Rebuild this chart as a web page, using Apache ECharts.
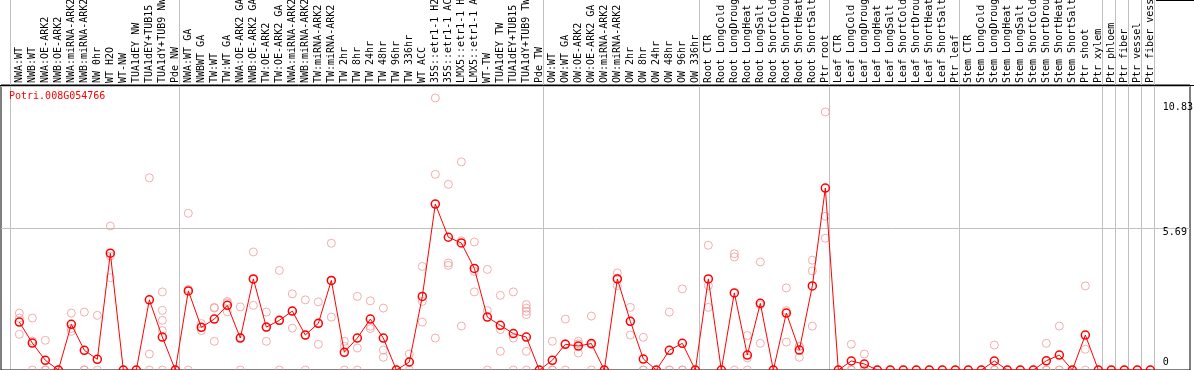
<!DOCTYPE html>
<html><head><meta charset="utf-8">
<script src="https://cdn.jsdelivr.net/npm/echarts@6/dist/echarts.min.js"></script>
<style>html,body{margin:0;padding:0;background:#fff}#c{width:1194px;height:370px}</style>
</head><body><div id="c"></div>
<script>
const chartTitle = 'Potri.008G054766';
const categories = [
  'NWA:WT','NWB:WT','NWA:OE-ARK2','NWB:OE-ARK2','NWA:miRNA-ARK2','NWB:miRNA-ARK2','NW 0hr','WT H2O','WT-NW','TUA1dEY NW','TUA1dEY+TUB15','TUA1dY+TUB9 NW','Pde NW',
  'NWA:WT GA','NWBWT GA','TW:WT','TW:WT GA','NWA:OE-ARK2 GA','NWB:OE-ARK2 GA','TW:OE-ARK2','TW:OE-ARK2 GA','NWA:miRNA-ARK2','NWB:miRNA-ARK2','TW:miRNA-ARK2','TW:miRNA-ARK2',
  'TW 2hr','TW 8hr','TW 24hr','TW 48hr','TW 96hr','TW 336hr','WT ACC','35S::etr1-1 H2O','35S::etr1-1 ACC','LMX5::etr1-1 H2O','LMX5::etr1-1 ACC','WT-TW','TUA1dEY TW','TUA1dEY+TUB15','TUA1dY+TUB9 TW','Pde TW',
  'OW:WT','OW:WT GA','OW:OE-ARK2','OW:OE-ARK2 GA','OW:miRNA-ARK2','OW:miRNA-ARK2','OW 2hr','OW 8hr','OW 24hr','OW 48hr','OW 96hr','OW 336hr',
  'Root CTR','Root LongCold','Root LongDrought','Root LongHeat','Root LongSalt','Root ShortCold','Root ShortDrought','Root ShortHeat','Root ShortSalt','Ptr root',
  'Leaf CTR','Leaf LongCold','Leaf LongDrought','Leaf LongHeat','Leaf LongSalt','Leaf ShortCold','Leaf ShortDrought','Leaf ShortHeat','Leaf ShortSalt','Ptr leaf',
  'Stem CTR','Stem LongCold','Stem LongDrought','Stem LongHeat','Stem LongSalt','Stem ShortCold','Stem ShortDrought','Stem ShortHeat','Stem ShortSalt','Ptr shoot',
  'Ptr xylem','Ptr phloem','Ptr fiber','Ptr vessel','Ptr fiber vessel'
];
const means = [
  1.92,1.08,0.39,0,1.83,0.79,0.43,4.68,0,0,2.81,1.32,0,
  3.17,1.71,2.04,2.59,1.28,3.65,1.72,1.99,2.36,1.40,1.87,3.59,
  0.71,1.28,2.04,1.28,0,0.32,2.95,6.65,5.32,5.09,4.07,2.12,1.79,1.46,1.32,0,
  0.39,1.03,0.96,1.06,0,3.65,1.95,0.44,0,0.79,1.07,0,
  3.65,0,3.09,0.60,2.67,0,2.28,0.80,3.37,7.29,
  0,0.36,0.24,0,0,0,0,0,0,0,
  0,0,0.36,0,0,0,0.37,0.60,0,1.40,
  0,0,0,0,0
];
const replicates = [
  [2.28,2.08,1.43],[2.08,1.16,0],[1.19,0,0],[0,0,0],[2.28,1.66,1.55],[2.32,0,0],[2.19,0],[5.77,4.57,3.70],[0],[0],[7.70,0.64,0],[3.13,2.39,1.99,1.58,0],[0],
  [6.28,3.23,0],[1.86,1.70,1.58],[2.51,2.48,1.15],[2.75,2.69,2.33],[2.53,1.31,0],[4.73,3.63,2.59],[2.32,1.70,1.15],[3.99,1.98,0],[3.05,2.36,1.68],[2.81,1.40,0],[2.73,1.85,1.03],[5.08,3.57,2.12],
  [1.15,0.95,0],[2.95,0.88,0],[2.77,1.75,1.66],[2.48,0.80,0.51],[0],[0.64,0.32,0],[4.15,2.75,1.92],[10.90,7.84,1.28],[7.44,4.29,4.19],[8.34,5.18,1.76],[5.13,3.95,3.13],[4.03,2.38,0],[2.99,1.62,0.75],[3.13,1.28,0],[2.62,2.48,2.35,2.22,0.75,0],[0],
  [1.15,0,0],[2.04,1.05,0],[1.15,1.05,0.68],[2.16,1.02,0],[0],[3.89,3.68,3.38],[2.51,1.94,1.40],[1.31,0,0],[0],[2.32,0,0],[3.25,0,0],[0],
  [5.00,3.38,2.51],[0],[4.66,4.53,0],[1.38,0.48,0],[4.33,2.61,1.07],[0],[3.29,2.38,1.12],[0.95,0.94,0.51],[4.40,3.97,1.76],[10.34,6.16,5.28],
  [0],[1.03,0,0],[0.64,0,0],[0],[0],[0],[0],[0],[0],[0],
  [0],[0],[1.00,0,0],[0],[0],[0],[1.07,0,0],[1.76,0,0],[0],[3.37,0.83,0],
  [0],[0],[0],[0],[0]
];
const groupStarts = [0,13,41,53,63,73,84,85,86,87];
const yTickLabels = [0, 5.69, 10.83];
const gridStep = 5.69;
const yMax = 11.38;

const FONT = 'DejaVu Sans Mono';
const repPoints = [];
replicates.forEach((arr, i) => arr.forEach(v => repPoints.push([i, v])));

const chart = echarts.init(document.getElementById('c'), null, {renderer: 'canvas'});
chart.setOption({
  animation: false,
  backgroundColor: '#fff',
  title: {text: chartTitle, left: 9, top: 91, padding: 0,
    textStyle: {fontFamily: FONT, fontSize: 10, fontWeight: 'normal', color: '#ff0000'}},
  grid: [
    {left: 12.83, width: 1144, top: 86, bottom: 0, containLabel: false, outerBoundsMode: 'none'},
    {left: 1, right: 4, top: 85, bottom: 0, show: true, borderColor: '#000', borderWidth: 1, backgroundColor: 'transparent', containLabel: false, outerBoundsMode: 'none'},
    {left: 12.83, width: 1144, top: 0, height: 85, containLabel: false, outerBoundsMode: 'none'},
    {left: 10.67, width: 1144, top: 0, bottom: 1, containLabel: false, outerBoundsMode: 'none'}
  ],
  xAxis: [
    {gridIndex: 0, type: 'category', data: categories, show: false},
    {gridIndex: 1, type: 'value', show: false},
    {gridIndex: 2, type: 'category', data: categories, position: 'bottom',
      axisLine: {show: false}, axisTick: {show: false}, splitLine: {show: false},
      axisLabel: {inside: true, rotate: 90, interval: 0, margin: 2, fontFamily: FONT, fontSize: 10, color: '#000'}},
    {gridIndex: 3, type: 'category', data: categories,
      axisLine: {show: false}, axisTick: {show: false}, axisLabel: {show: false},
      splitLine: {show: true, interval: (i) => groupStarts.indexOf(i) >= 0, lineStyle: {color: '#c0c0c0', width: 1}}}
  ],
  yAxis: [
    {gridIndex: 0, type: 'value', position: 'right', min: 0, max: yMax,
      axisLine: {show: false}, axisTick: {show: false}, splitLine: {show: false},
      axisLabel: {customValues: yTickLabels, margin: 6, fontFamily: FONT, fontSize: 10, color: '#000', lineHeight: 8,
        formatter: (v) => {
          const s = String(v);
          if (Number(v) === yTickLabels[0]) return s + '\n\n';
          if (Number(v) === yTickLabels[yTickLabels.length - 1]) return '\n\n' + s;
          return '\n' + s;
        }}},
    {gridIndex: 1, type: 'value', min: 0, max: yMax * 285 / 284, interval: gridStep,
      axisLine: {show: false}, axisTick: {show: false}, axisLabel: {show: false},
      splitLine: {show: true, showMinLine: false, showMaxLine: false, lineStyle: {color: '#c0c0c0', width: 1}}},
    {gridIndex: 2, type: 'value', show: false},
    {gridIndex: 3, type: 'value', show: false}
  ],
  graphic: [
    {type: 'line', shape: {x1: 0, y1: 85.5, x2: 1194, y2: 85.5}, style: {stroke: '#000', lineWidth: 1}, z: 10},
    {type: 'line', shape: {x1: 1156, y1: 0.5, x2: 1194, y2: 0.5}, style: {stroke: '#000', lineWidth: 1}, z: 10}
  ],
  series: [
    {type: 'scatter', name: 'replicates', xAxisIndex: 0, yAxisIndex: 0, data: repPoints,
      symbol: 'circle', symbolSize: 8, z: 2,
      itemStyle: {color: 'rgba(0,0,0,0)', borderColor: '#f09a9a', borderWidth: 1}},
    {type: 'line', name: 'mean', xAxisIndex: 0, yAxisIndex: 0, data: means,
      symbol: 'circle', symbolSize: 8, showAllSymbol: true, z: 3,
      lineStyle: {color: '#ff0000', width: 1},
      itemStyle: {color: 'rgba(0,0,0,0)', borderColor: '#ff0000', borderWidth: 1.5}}
  ]
});
</script>
</body></html>
